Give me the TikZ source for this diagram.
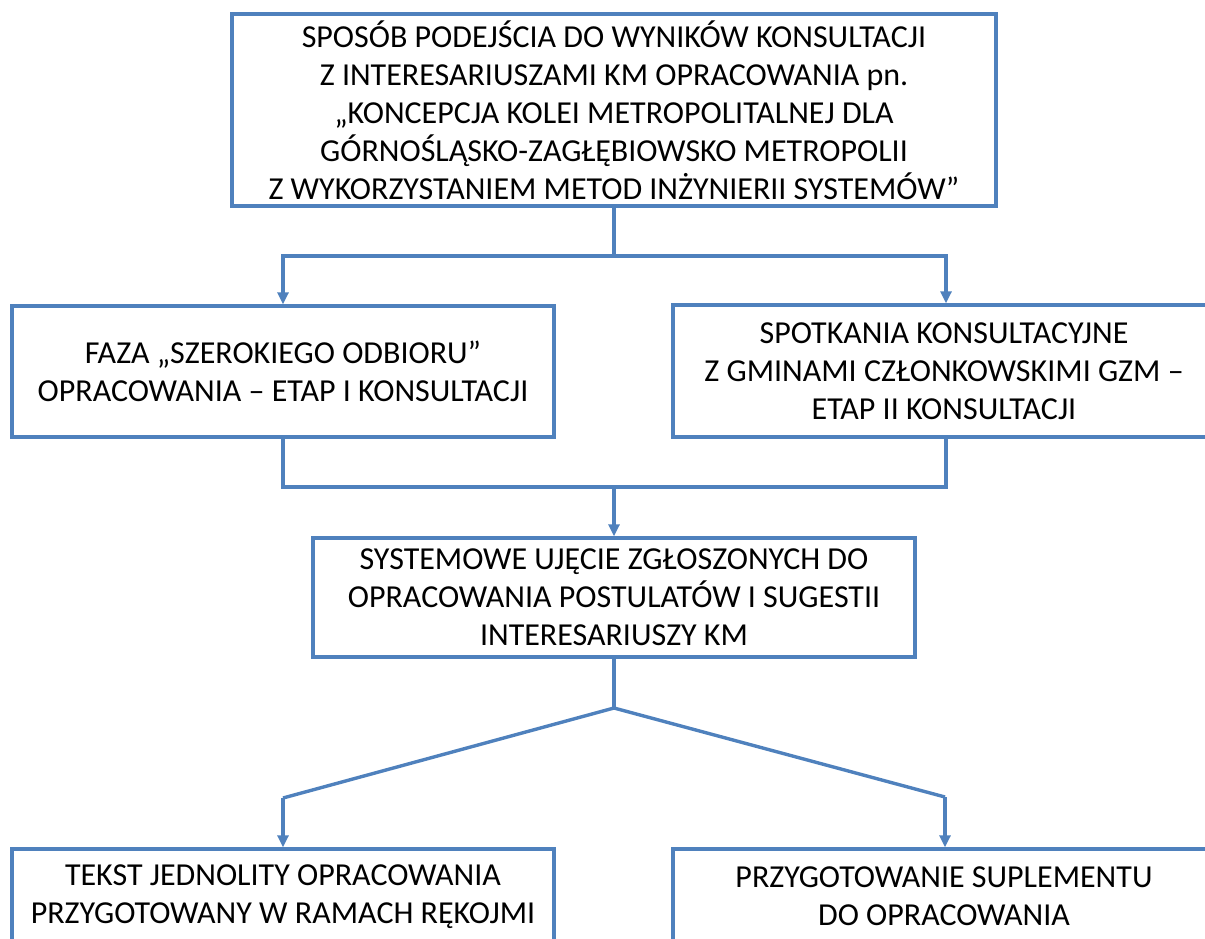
\documentclass[tikz,border=0pt]{standalone}
\usepackage{fontspec}
\setmainfont{Carlito}
\usetikzlibrary{arrows.meta}
\definecolor{lineblue}{HTML}{4F81BD}
\tikzset{
  box/.style={draw=lineblue, line width=3.4pt, fill=white, inner sep=0pt, align=center,
    font=\fontsize{32}{38}\selectfont, text=black},
  conn/.style={draw=lineblue, line width=3.4pt},
  arr/.style={conn, -{Triangle[length=12pt,width=11pt]}},
}
\begin{document}
\begin{tikzpicture}[x=1pt,y=-1pt]
\useasboundingbox (0,0) rectangle (1205,938);
\clip (0,0) rectangle (1205,938);
\node[box, minimum width=764pt, minimum height=192pt] (top) at (614,110)
  {SPOSÓB PODEJŚCIA DO WYNIKÓW KONSULTACJI\\
   Z INTERESARIUSZAMI KM OPRACOWANIA pn.\\
   „KONCEPCJA KOLEI METROPOLITALNEJ DLA\\
   GÓRNOŚLĄSKO-ZAGŁĘBIOWSKO METROPOLII\\
   Z WYKORZYSTANIEM METOD INŻYNIERII SYSTEMÓW”};
\node[box, minimum width=542pt, minimum height=131pt] (faza) at (283,371.5)
  {FAZA „SZEROKIEGO ODBIORU”\\ OPRACOWANIA – ETAP I KONSULTACJI};
\node[box, minimum width=542pt, minimum height=132pt] (spot) at (944,371)
  {SPOTKANIA KONSULTACYJNE\\ Z GMINAMI CZŁONKOWSKIMI GZM –\\ ETAP II KONSULTACJI};
\node[box, minimum width=602pt, minimum height=119pt] (sys) at (614,597.5)
  {SYSTEMOWE UJĘCIE ZGŁOSZONYCH DO\\ OPRACOWANIA POSTULATÓW I SUGESTII\\ INTERESARIUSZY KM};
\node[box, minimum width=542pt, minimum height=95pt] (tekst) at (283,896.5)
  {TEKST JEDNOLITY OPRACOWANIA\\ PRZYGOTOWANY W RAMACH RĘKOJMI};
\node[box, minimum width=542pt, minimum height=95pt] (supl) at (944,896.5)
  {PRZYGOTOWANIE SUPLEMENTU\\ DO OPRACOWANIA};
% connectors
\coordinate (j1) at (614,256);
\coordinate (j2) at (614,487);
\coordinate (j3) at (614,708);
\coordinate (d1) at (283,798);
\coordinate (d2) at (945,797);
\draw[conn] (top.south) -- (j1);
\draw[arr] (j1) -| (faza.north);
\draw[arr] (j1) -| ([xshift=2pt]spot.north);
\draw[conn] (faza.south) |- (j2);
\draw[conn] ([xshift=2pt]spot.south) |- (j2);
\draw[arr] (j2) -- (sys.north);
\draw[conn] (sys.south) -- (j3);
\draw[conn, line join=miter] (j3) -- (d1);
\draw[conn, line join=miter] (j3) -- (d2);
\draw[arr] (d1) -- (tekst.north);
\draw[arr] (d2) -- ([xshift=1pt]supl.north);
\end{tikzpicture}
\end{document}
